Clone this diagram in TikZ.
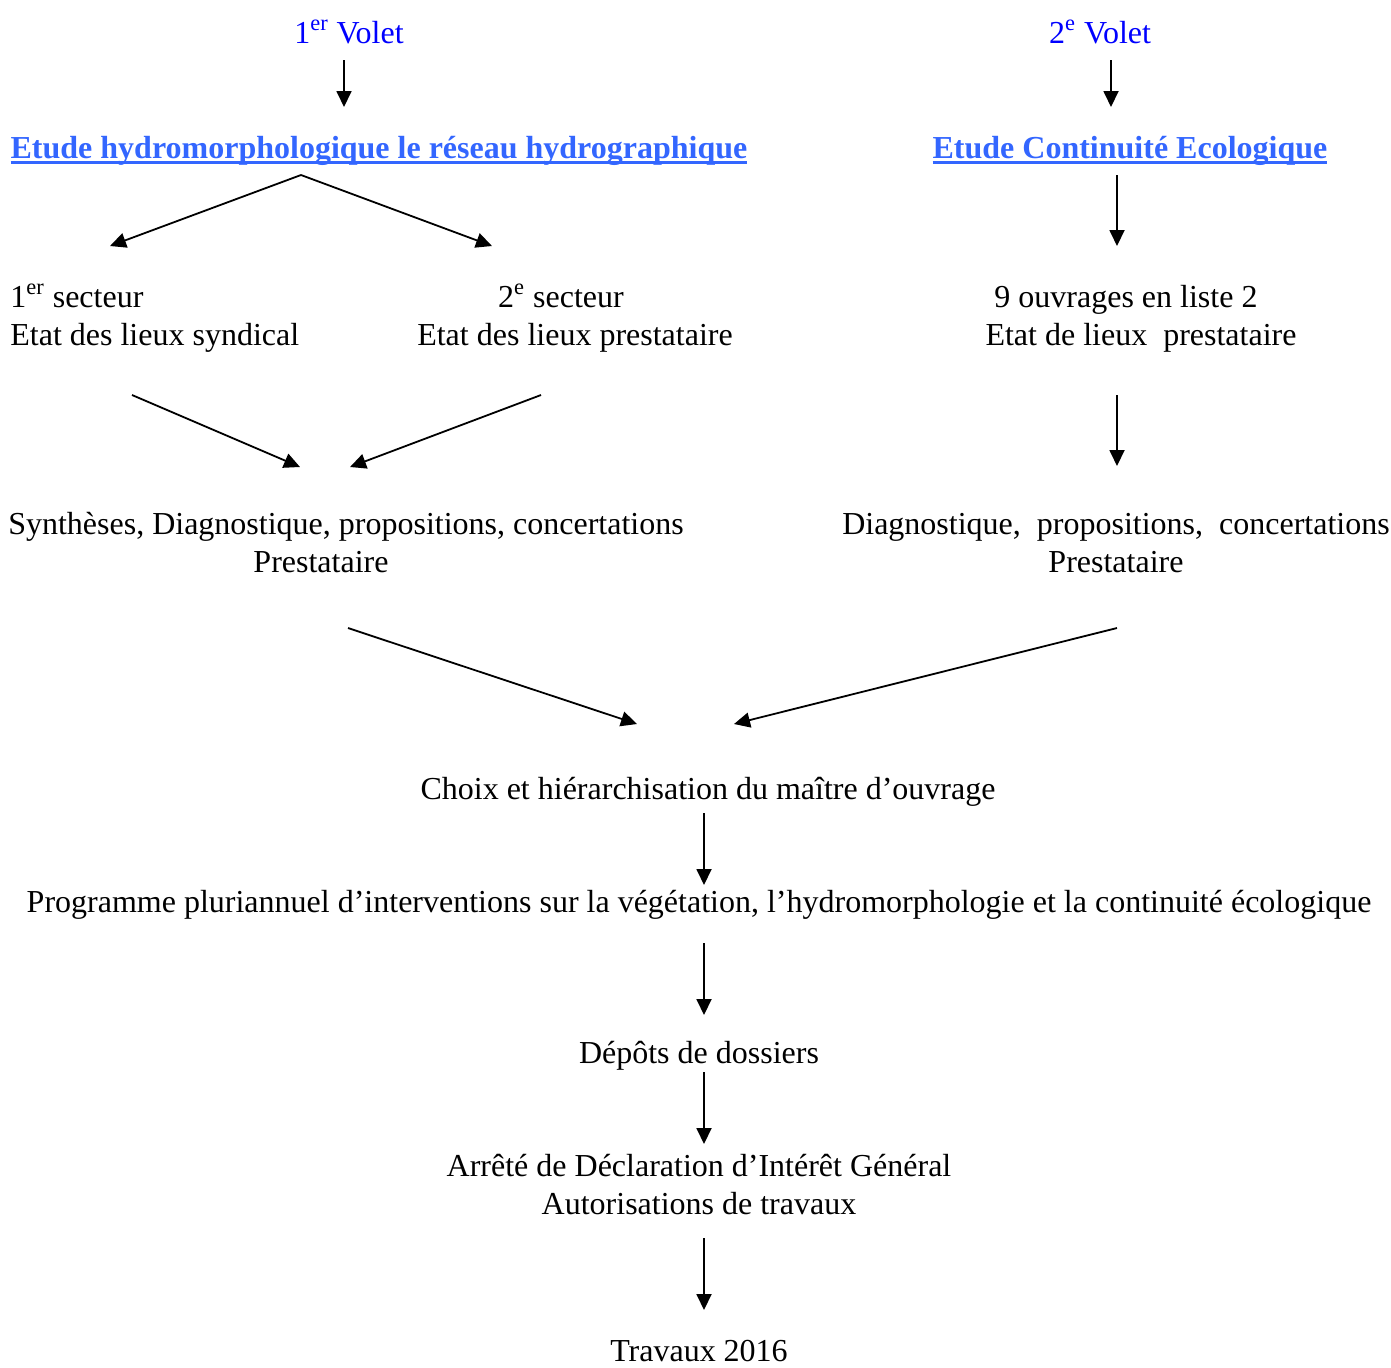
\documentclass[tikz,border=0pt]{standalone}
\usepackage{fontspec}
\setmainfont{Liberation Serif}
\usetikzlibrary{arrows.meta}

\definecolor{voletblue}{RGB}{0,0,255}
\definecolor{etudeblue}{RGB}{51,102,255}
\newcommand{\souligne}[1]{\setbox0\hbox{#1}\rlap{\vrule height -1.4pt depth 2.8pt width \wd0}\box0}

\begin{document}
\begin{tikzpicture}[x=0.5pt,y=-0.5pt,
  every node/.style={font=\fontsize{16}{18.9}\selectfont,inner sep=0pt,align=center,anchor=base},
  volet/.style={text=voletblue},
  etude/.style={text=etudeblue,font=\fontsize{16}{18.9}\selectfont\bfseries},
  fleche/.style={-{Triangle[length=8pt,width=7.5pt]},line width=0.9pt}]
  \useasboundingbox (0,0) rectangle (1391,1367);

  % volets et etudes
  \node[volet] (voletA) at (349,43)  {1\textsuperscript{er} Volet};
  \node[volet] (voletB) at (1100,43) {2\textsuperscript{e} Volet};
  \node[etude] (etudeA) at (379,158) {\souligne{Etude hydromorphologique le réseau hydrographique}};
  \node[etude] (etudeB) at (1130,158) {\souligne{Etude Continuité Ecologique}};

  % etats des lieux (base = derniere ligne)
  \node[anchor=base west,align=left] (secteurA) at (10,345) {1\textsuperscript{er} secteur\\Etat des lieux syndical};
  \node (secteurB) at (575,345) {2\textsuperscript{e} secteur\hspace*{14pt}\\Etat des lieux prestataire};
  \node (ouvrages) at (1141,345) {9 ouvrages en liste 2\hspace*{15pt}\\Etat de lieux~~prestataire};

  % diagnostics
  \node (diagA) at (346,572)  {Synthèses, Diagnostique, propositions, concertations\\Prestataire\hspace*{25pt}};
  \node (diagB) at (1116,572) {Diagnostique,~ propositions,~ concertations\\Prestataire};

  % suite commune
  \node (choix)    at (708,799)  {Choix et hiérarchisation du maître d’ouvrage};
  \node (programme) at (699,912) {Programme pluriannuel d’interventions sur la végétation, l’hydromorphologie et la continuité écologique};
  \node (depots)   at (699,1063) {Dépôts de dossiers};
  \node (arrete)   at (699,1214) {Arrêté de Déclaration d’Intérêt Général\\Autorisations de travaux};
  \node (travaux)  at (699,1361) {Travaux 2016};

  % bouts des fleches
  \coordinate (voletA-s) at (344,60);   \coordinate (voletA-e) at (344,107);
  \coordinate (voletB-s) at (1111,60);  \coordinate (voletB-e) at (1111,107);
  \coordinate (etudeA-s) at (301,175);
  \coordinate (secteurA-e) at (110,246); \coordinate (secteurB-e) at (492,246);
  \coordinate (etudeB-s) at (1117,175); \coordinate (ouvrages-e) at (1117,246);
  \coordinate (secteurA-s) at (132,395); \coordinate (diagA-e1) at (300,467);
  \coordinate (secteurB-s) at (541,395); \coordinate (diagA-e2) at (350,467);
  \coordinate (ouvrages-s) at (1117,395); \coordinate (diagB-e) at (1117,466);
  \coordinate (diagA-s) at (348,628);   \coordinate (choix-e1) at (637,724);
  \coordinate (diagB-s) at (1117,628);  \coordinate (choix-e2) at (734,724);
  \coordinate (choix-s) at (704,813);   \coordinate (programme-e) at (704,885);
  \coordinate (programme-s) at (704,943); \coordinate (depots-e) at (704,1015);
  \coordinate (depots-s) at (704,1072); \coordinate (arrete-e) at (704,1144);
  \coordinate (arrete-s) at (704,1238); \coordinate (travaux-e) at (704,1310);

  \path[fleche]
    (voletA-s) edge (voletA-e)
    (voletB-s) edge (voletB-e)
    (etudeA-s) edge (secteurA-e)
    (etudeA-s) edge (secteurB-e)
    (etudeB-s) edge (ouvrages-e)
    (secteurA-s) edge (diagA-e1)
    (secteurB-s) edge (diagA-e2)
    (ouvrages-s) edge (diagB-e)
    (diagA-s) edge (choix-e1)
    (diagB-s) edge (choix-e2)
    (choix-s) edge (programme-e)
    (programme-s) edge (depots-e)
    (depots-s) edge (arrete-e)
    (arrete-s) edge (travaux-e);
\end{tikzpicture}
\end{document}
